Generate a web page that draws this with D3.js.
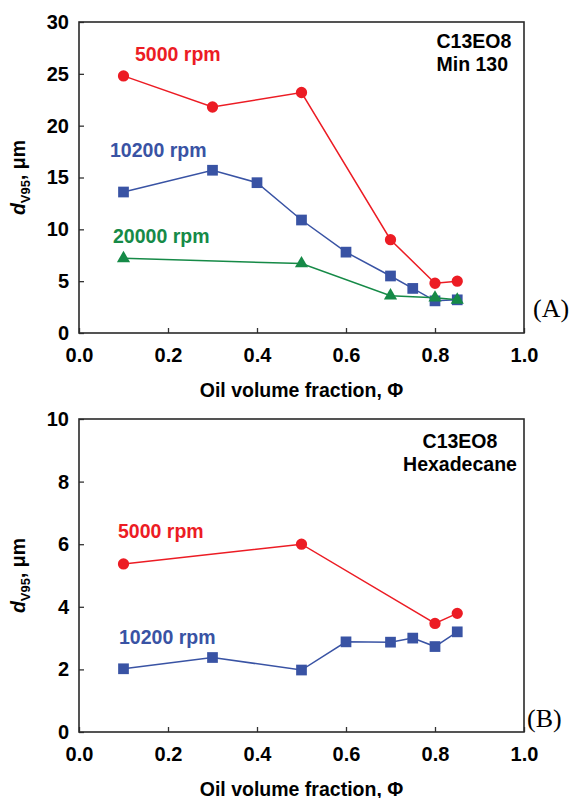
<!DOCTYPE html>
<html>
<head>
<meta charset="utf-8">
<script src="https://cdn.jsdelivr.net/npm/d3@7"></script>
<style>
  body { margin: 0; background: #fff; }
  svg { display: block; }
  text { font-family: "Liberation Sans", Arial, sans-serif; }
</style>
</head>
<body>
<svg id="chart" width="573" height="798"></svg>
<script>
/** Data */
const xTicks = [0.0, 0.2, 0.4, 0.6, 0.8, 1.0];

// Panel A: C13EO8 / Min 130
const aTicksY = [0, 5, 10, 15, 20, 25, 30];
const a5000X = [0.1, 0.3, 0.5, 0.7, 0.8, 0.85];
const a5000Y = [24.8, 21.8, 23.2, 9.0, 4.8, 5.0];
const a10200X = [0.1, 0.3, 0.4, 0.5, 0.6, 0.7, 0.75, 0.8, 0.85];
const a10200Y = [13.6, 15.7, 14.5, 10.9, 7.8, 5.5, 4.3, 3.1, 3.2];
const a20000X = [0.1, 0.5, 0.7, 0.8, 0.85];
const a20000Y = [7.2, 6.7, 3.6, 3.4, 3.2];

// Panel B: C13EO8 / Hexadecane
const bTicksY = [0, 2, 4, 6, 8, 10];
const b5000X = [0.1, 0.5, 0.8, 0.85];
const b5000Y = [5.37, 6.0, 3.47, 3.79];
const b10200X = [0.1, 0.3, 0.5, 0.6, 0.7, 0.75, 0.8, 0.85];
const b10200Y = [2.02, 2.38, 1.98, 2.88, 2.87, 3.0, 2.73, 3.2];

const RED = '#ec1c24', BLUE = '#3953a4', GREEN = '#168a47';

const svg = d3.select('#chart');
const left = 79, right = 524;

const zip = (xs, ys) => xs.map((x, i) => ({ x, y: ys[i] }));

function drawPanel(p) {
    const xScale = d3.scaleLinear().domain([0, 1]).range([left, right]);
    const yScale = d3.scaleLinear().domain([0, p.yMax]).range([p.bottom, p.top]);
    const g = svg.append('g');

    // Axes with inward ticks
    const xAxis = g.append('g')
        .attr('transform', `translate(0,${p.bottom})`)
        .call(d3.axisBottom(xScale).tickValues(xTicks).tickFormat(d3.format('.1f'))
            .tickSizeInner(-5).tickSizeOuter(0).tickPadding(14.5));
    const yAxis = g.append('g')
        .attr('transform', `translate(${left},0)`)
        .call(d3.axisLeft(yScale).tickValues(p.yTicks)
            .tickSizeInner(-5).tickSizeOuter(0).tickPadding(10));
    [xAxis, yAxis].forEach(a => {
        a.select('.domain').remove();
        a.selectAll('line').attr('stroke', '#333').attr('stroke-width', 1.3);
        a.selectAll('text')
            .attr('fill', '#000')
            .style('font-size', '20px')
            .style('font-weight', 'bold')
            .style('font-family', '"Liberation Sans", Arial, sans-serif');
    });

    // Frame
    g.append('rect')
        .attr('x', left).attr('y', p.top)
        .attr('width', right - left).attr('height', p.bottom - p.top)
        .attr('fill', 'none').attr('stroke', '#2a2a2a').attr('stroke-width', 1.6);

    // Series
    const line = d3.line().x(d => xScale(d.x)).y(d => yScale(d.y));
    p.series.forEach(s => {
        const pts = zip(s.xs, s.ys);
        g.append('path').datum(pts)
            .attr('fill', 'none').attr('stroke', s.color).attr('stroke-width', 1.5)
            .attr('d', line);
        g.selectAll(null).data(pts).enter().append('path')
            .attr('transform', d => `translate(${xScale(d.x)},${yScale(d.y)})`)
            .attr('d', d3.symbol().type(s.symbol).size(s.size))
            .attr('fill', s.color);
        g.append('text')
            .attr('x', s.labelX).attr('y', s.labelY)
            .attr('fill', s.color)
            .style('font-size', '19.5px').style('font-weight', 'bold')
            .text(s.name);
    });

    // Sample note
    g.append('text')
        .attr('text-anchor', p.noteAnchor)
        .attr('x', p.noteX).attr('y', p.noteY)
        .style('font-size', '19.5px').style('font-weight', 'bold')
        .selectAll('tspan').data(p.note).enter().append('tspan')
        .attr('x', p.noteX).attr('dy', (d, i) => i ? 22.5 : 0)
        .text(d => d);

    // Axis titles
    g.append('text')
        .attr('x', (left + right) / 2).attr('y', p.bottom + 63.5)
        .attr('text-anchor', 'middle')
        .style('font-size', '19.5px').style('font-weight', 'bold')
        .text('Oil volume fraction, \u03A6');

    const yl = g.append('text')
        .attr('transform', `translate(25,${(p.top + p.bottom) / 2}) rotate(-90)`)
        .attr('text-anchor', 'middle')
        .style('font-size', '19.5px').style('font-weight', 'bold');
    yl.append('tspan').style('font-style', 'italic').text('d');
    yl.append('tspan').attr('dy', 5).style('font-size', '13px').text('V95');
    yl.append('tspan').attr('dy', -5).text(', \u03BCm');

    // Panel tag
    g.append('text')
        .attr('x', p.tagX).attr('y', p.tagY)
        .style('font-family', '"Liberation Serif", "Times New Roman", serif')
        .style('font-size', '26px')
        .text(p.tag);
}

drawPanel({
    top: 22, bottom: 333, yMax: 30, yTicks: aTicksY,
    note: ['C13EO8', 'Min 130'], noteAnchor: 'start', noteX: 436.5, noteY: 48,
    tag: '(A)', tagX: 533, tagY: 317,
    series: [
        { name: '5000 rpm', xs: a5000X, ys: a5000Y, color: RED, symbol: d3.symbolCircle, size: 100, labelX: 135, labelY: 61 },
        { name: '10200 rpm', xs: a10200X, ys: a10200Y, color: BLUE, symbol: d3.symbolSquare, size: 115, labelX: 110, labelY: 157 },
        { name: '20000 rpm', xs: a20000X, ys: a20000Y, color: GREEN, symbol: d3.symbolTriangle, size: 75, labelX: 113, labelY: 242.5 }
    ]
});

drawPanel({
    top: 419, bottom: 732, yMax: 10, yTicks: bTicksY,
    note: ['C13EO8', 'Hexadecane'], noteAnchor: 'middle', noteX: 460, noteY: 448,
    tag: '(B)', tagX: 527, tagY: 727,
    series: [
        { name: '5000 rpm', xs: b5000X, ys: b5000Y, color: RED, symbol: d3.symbolCircle, size: 100, labelX: 118, labelY: 537.5 },
        { name: '10200 rpm', xs: b10200X, ys: b10200Y, color: BLUE, symbol: d3.symbolSquare, size: 115, labelX: 119, labelY: 644 }
    ]
});
</script>
</body>
</html>
